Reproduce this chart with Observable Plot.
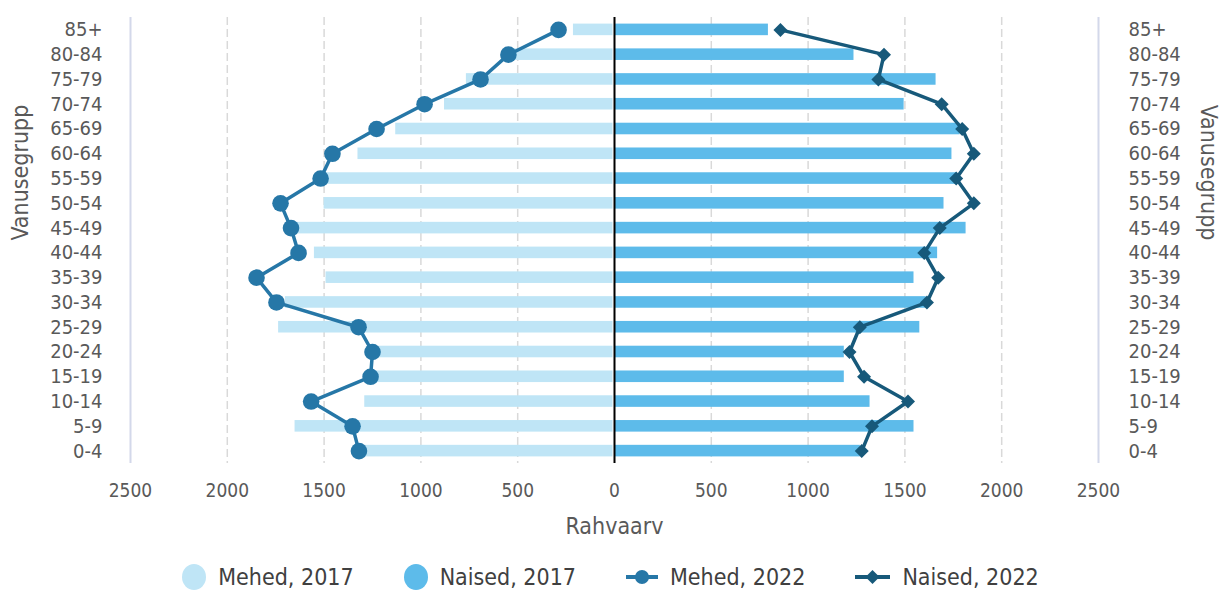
<!DOCTYPE html>
<html>
<head>
<meta charset="utf-8">
<script src="https://cdn.jsdelivr.net/npm/d3@7"></script>
<script src="https://cdn.jsdelivr.net/npm/@observablehq/plot@0.6"></script>
<style>
  html, body { margin: 0; padding: 0; background: #ffffff; }
  body { width: 1221px; height: 590px; overflow: hidden; font-family: "DejaVu Sans Condensed", "Liberation Sans", sans-serif; }
  #legend { display: flex; justify-content: center; align-items: center; height: 54px; gap: 50px; font-size: 23px; color: #404040; }
  .item { display: flex; align-items: center; gap: 12px; }
  .item svg { display: block; }
</style>
</head>
<body>
<div id="chart"></div>
<div id="legend"></div>
<script>
// Age groups (bottom to top)
const ageGroups = ["0-4","5-9","10-14","15-19","20-24","25-29","30-34","35-39","40-44","45-49","50-54","55-59","60-64","65-69","70-74","75-79","80-84","85+"];
// Population values
const men2017   = [1310,1650,1290,1260,1250,1735,1700,1490,1550,1650,1500,1520,1325,1130,878,765,530,212];
const women2017 = [1270,1547,1320,1187,1187,1577,1610,1547,1669,1816,1702,1770,1743,1785,1496,1661,1237,795];
const men2022   = [1320,1353,1567,1260,1250,1322,1746,1849,1632,1671,1725,1518,1457,1229,981,692,548,289];
const women2022 = [1277,1330,1516,1289,1214,1267,1614,1672,1600,1680,1856,1765,1856,1796,1690,1363,1392,857];
// Axis ticks
const xTicks = [-2500,-2000,-1500,-1000,-500,0,500,1000,1500,2000,2500];
const gridTicks = [-2000,-1500,-1000,-500,500,1000,1500,2000];
const edgeTicks = [-2500,2500];
const seriesNames = ["Mehed, 2017","Naised, 2017","Mehed, 2022","Naised, 2022"];
const xLabel = "Rahvaarv";
const yLabel = "Vanusegrupp";

const colors = {
  m17: "#bfe5f6",
  w17: "#5dbbea",
  m22: "#2677a7",
  w22: "#17597a"
};

const rows = ageGroups.map((age, i) => ({
  age,
  m17: -men2017[i],
  w17: women2017[i],
  m22: -men2022[i],
  w22: women2022[i]
}));

const textColor = "#595959";
const fontStack = "'DejaVu Sans Condensed', 'Liberation Sans', sans-serif";

const chart = Plot.plot({
  width: 1221,
  height: 550,
  marginTop: 17,
  marginBottom: 87,
  marginLeft: 130,
  marginRight: 123,
  style: { fontFamily: fontStack, background: "#ffffff" },
  x: { domain: [-2500, 2500] },
  y: { domain: ageGroups.slice().reverse(), padding: 0, round: false },
  marks: [
    Plot.ruleX(gridTicks, { stroke: "#d9d9d9", strokeWidth: 1.5, strokeDasharray: "8,4" }),
    Plot.ruleX(edgeTicks, { stroke: "#d3d8ea", strokeWidth: 2 }),
    Plot.barX(rows, { y: "age", x1: "m17", x2: 0, fill: colors.m17, insetTop: 6.6, insetBottom: 6.6, insetRight: 1.5 }),
    Plot.barX(rows, { y: "age", x1: 0, x2: "w17", fill: colors.w17, insetTop: 6.6, insetBottom: 6.6, insetLeft: 0.5 }),
    Plot.ruleX([0], { stroke: "#000000", strokeWidth: 2 }),
    Plot.line(rows, { y: "age", x: "m22", stroke: colors.m22, strokeWidth: 3.5 }),
    Plot.dot(rows, { y: "age", x: "m22", fill: colors.m22, r: 8.3, stroke: null }),
    Plot.line(rows, { y: "age", x: "w22", stroke: colors.w22, strokeWidth: 3.5 }),
    Plot.dot(rows, { y: "age", x: "w22", fill: colors.w22, symbol: "diamond2", r: 6.3, stroke: null }),
    Plot.axisX(xTicks, { tickSize: 0, tickPadding: 20, tickFormat: d => String(Math.abs(d)), fontSize: 19, fill: textColor, label: null }),
    Plot.axisY({ anchor: "left", tickSize: 0, tickPadding: 28, fontSize: 20, fill: textColor, label: null }),
    Plot.axisY({ anchor: "right", tickSize: 0, tickPadding: 30, fontSize: 20, fill: textColor, label: null }),
    Plot.text([xLabel], { text: d => d, frameAnchor: "bottom", dy: 70, fontSize: 23, fill: textColor }),
    Plot.text([yLabel], { text: d => d, frameAnchor: "left", rotate: -90, dx: -110, fontSize: 23, fill: textColor }),
    Plot.text([yLabel], { text: d => d, frameAnchor: "right", rotate: 90, dx: 110, fontSize: 23, fill: textColor })
  ]
});
document.getElementById("chart").appendChild(chart);

// Legend
const legend = document.getElementById("legend");
const swatches = [
  `<svg width="24" height="28"><ellipse cx="12" cy="14" rx="12" ry="13" fill="${colors.m17}"/></svg>`,
  `<svg width="24" height="28"><ellipse cx="12" cy="14" rx="12" ry="13" fill="${colors.w17}"/></svg>`,
  `<svg width="32" height="28"><line x1="0" y1="14" x2="32" y2="14" stroke="${colors.m22}" stroke-width="4"/><circle cx="16" cy="14" r="7" fill="${colors.m22}"/></svg>`,
  `<svg width="35" height="28"><line x1="0" y1="14" x2="35" y2="14" stroke="${colors.w22}" stroke-width="4"/><path d="M17.5,7 L24.5,14 L17.5,21 L10.5,14 Z" fill="${colors.w22}"/></svg>`
];
seriesNames.forEach((name, i) => {
  const item = document.createElement("div");
  item.className = "item";
  item.innerHTML = swatches[i] + `<span>${name}</span>`;
  legend.appendChild(item);
});
</script>
</body>
</html>
